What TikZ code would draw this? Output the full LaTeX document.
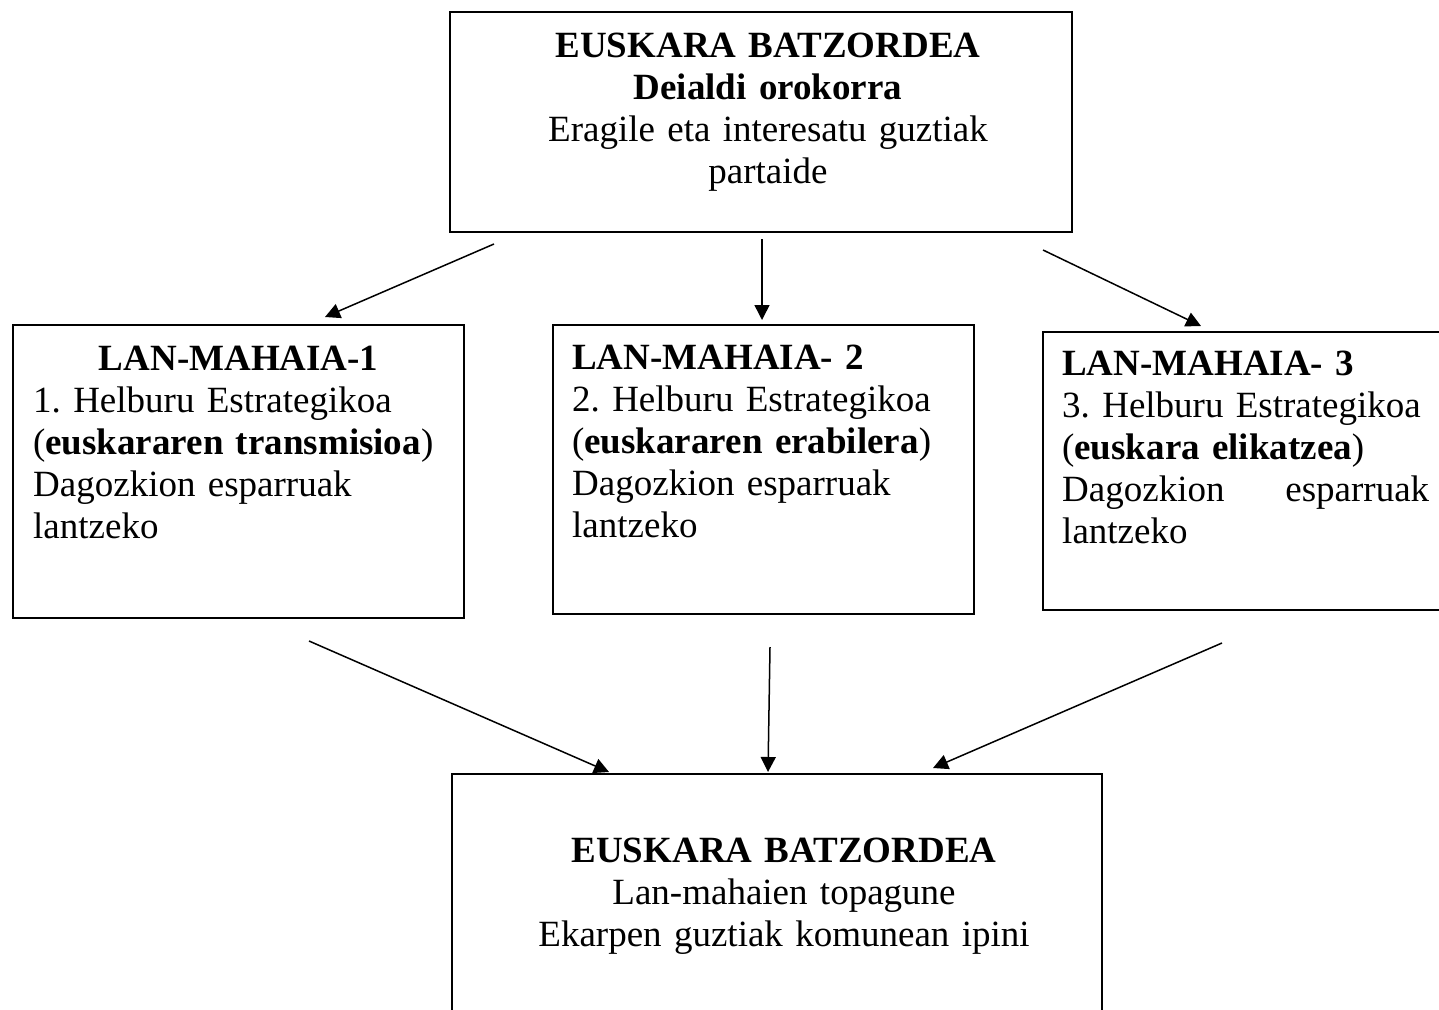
\documentclass[tikz,border=0pt]{standalone}
\usepackage{fontspec}
\setmainfont{Liberation Serif}
\usetikzlibrary{arrows.meta}
\begin{document}
\frenchspacing
\hyphenpenalty=10000
\exhyphenpenalty=10000
\begin{tikzpicture}[x=1pt,y=-1pt,
  boxst/.style={draw=black,line width=1.6pt,rectangle,inner sep=0pt,anchor=north west},
  txt/.style={inner sep=0pt,font=\fontsize{37}{42.2}\selectfont\frenchspacing},
  arr/.style={draw=black,line width=1.5pt,-{Triangle[length=15pt,width=15pt]}}]
\useasboundingbox (0,0) rectangle (1439,1009);
% boxes
\node[boxst,minimum width=622pt,minimum height=220pt] (top) at (449,11) {};
\node[boxst,minimum width=451pt,minimum height=293pt] (m1) at (12,324) {};
\node[boxst,minimum width=421pt,minimum height=289pt] (m2) at (552,324) {};
\node[boxst,minimum width=420pt,minimum height=278pt] (m3) at (1042,331) {};
\node[boxst,minimum width=650pt,minimum height=260pt] (bot) at (451,773) {};
% texts
\node[txt,anchor=base,align=center,text width=600pt] (toptext) at (768,57)
  {\textbf{EUSKARA BATZORDEA}\\ \textbf{Deialdi orokorra}\\ Eragile eta interesatu guztiak\\ partaide};
\node[txt,anchor=base west,align=left,text width=411pt] (m1text) at (33,370)
  {\makebox[\linewidth][c]{\textbf{LAN-MAHAIA-1}}\\ 1. Helburu Estrategikoa\\ (\textbf{euskararen transmisioa})\\ Dagozkion esparruak\\ lantzeko};
\node[txt,anchor=base west,align=left,text width=390pt] (m2text) at (572,369)
  {\textbf{LAN-MAHAIA- 2}\\ 2. Helburu Estrategikoa\\ (\textbf{euskararen erabilera})\\ Dagozkion esparruak\\ lantzeko};
\node[txt,anchor=base west,align=left,text width=370pt] (m3text) at (1062,375)
  {\textbf{LAN-MAHAIA- 3}\\ 3. Helburu Estrategikoa\\ (\textbf{euskara elikatzea})\\ \makebox[367pt][s]{Dagozkion\hfill esparruak}\\ lantzeko};
\node[txt,anchor=base,align=center,text width=620pt] (bottext) at (784,862)
  {\textbf{EUSKARA BATZORDEA}\\ Lan-mahaien topagune\\ Ekarpen guztiak komunean ipini};
% arrow end points
\coordinate (a1s) at (494,244); \coordinate (a1e) at (325,317);
\coordinate (a2s) at (762,239); \coordinate (a2e) at (762,320);
\coordinate (a3s) at (1043,250); \coordinate (a3e) at (1201,326);
\coordinate (b1s) at (309,641); \coordinate (b1e) at (609,772);
\coordinate (b2s) at (770,647); \coordinate (b2e) at (768,772);
\coordinate (b3s) at (1222,643); \coordinate (b3e) at (933,768);
\draw[arr] (a1s) -- (a1e);
\draw[arr] (a2s) -- (a2e);
\draw[arr] (a3s) -- (a3e);
\draw[arr] (b1s) -- (b1e);
\draw[arr] (b2s) -- (b2e);
\draw[arr] (b3s) -- (b3e);
\end{tikzpicture}
\end{document}
